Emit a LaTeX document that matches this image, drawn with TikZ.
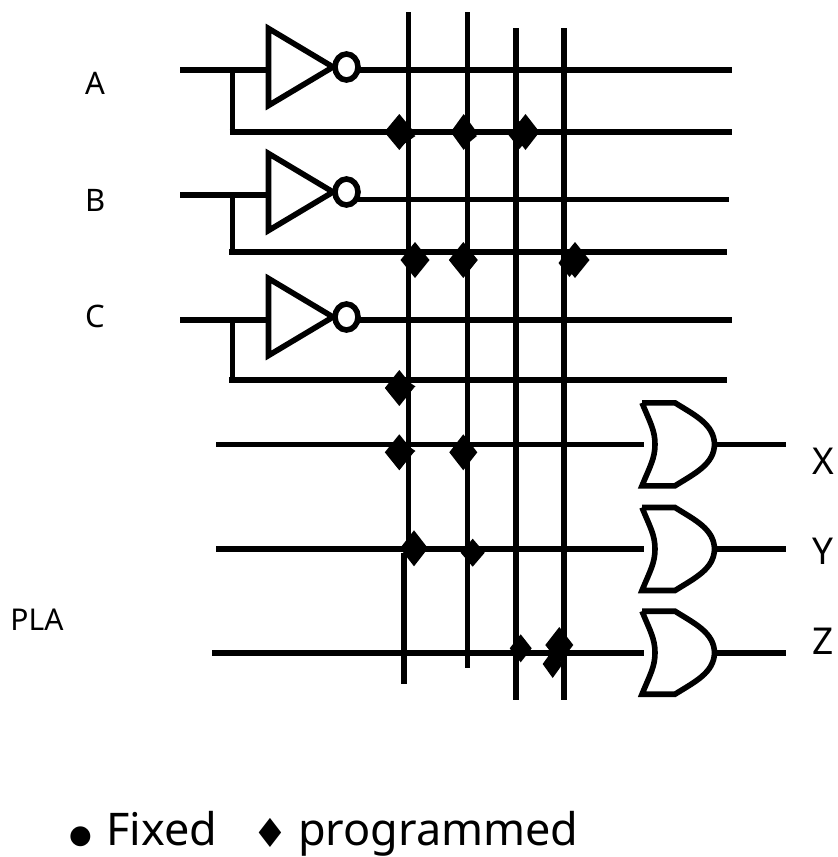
\documentclass[tikz,border=0pt]{standalone}
\usepackage{fontspec}
\setmainfont{Noto Sans}
\newfontfamily\symfont{DejaVu Sans}
\tikzset{
  wire/.style={line width=5.6pt,line cap=butt,line join=miter},
  gate/.style={line width=5.6pt,line join=miter,fill=white},
  bubble/.style={ellipse,draw,line width=5.6pt,minimum width=23pt,minimum height=26pt,inner sep=0pt,fill=white},
  lbl/.style={inner sep=0pt,font=\fontsize{31}{36}\selectfont},
  outlbl/.style={inner sep=0pt,font=\fontsize{37}{44}\selectfont},
  legend/.style={inner sep=0pt,anchor=base west,font=\fontsize{45}{54}\selectfont},
}
\usetikzlibrary{shapes.geometric}
\newcommand{\dia}[4]{\fill (#1-#3,#2) -- (#1,#2-#4) -- (#1+#3,#2) -- (#1,#2+#4) -- cycle;}
\begin{document}
\begin{tikzpicture}[x=1pt,y=-1pt]
\useasboundingbox (0,0) rectangle (838,857);
% vertical product lines
\coordinate (v1t) at (408.5,12);  \coordinate (v1m) at (408.5,550);
\coordinate (v1n) at (403.7,553); \coordinate (v1b) at (403.7,684);
\coordinate (v2t) at (467.5,12);  \coordinate (v2b) at (467.5,668);
\coordinate (v3t) at (515.7,28);  \coordinate (v3b) at (515.7,700);
\coordinate (v4t) at (563.7,28);  \coordinate (v4b) at (563.7,700);
\draw[wire] (v1t) -- (v1m) (v1n) -- (v1b) (v2t) -- (v2b) (v3t) -- (v3b) (v4t) -- (v4b);
% inputs
\foreach \nm/\y/\ty/\by/\ox/\oy/\ly/\lx/\rx in {A/70/67/132/732/70/132/229.5/732,B/195/192/252/729/199.5/252/229/727,C/320/317/380/732/320/380/229/727}{
  \coordinate (in\nm) at (180,\y);
  \coordinate (tl\nm) at (268.5,\y);
  \coordinate (br\nm) at (232.3,\y);
  \coordinate (lo\nm) at (\lx,\ly);
  \coordinate (lc\nm) at (232.3,\ly);
  \coordinate (le\nm) at (\rx,\ly);
  \coordinate (os\nm) at (356,\oy);
  \coordinate (ou\nm) at (\ox,\oy);
  \draw[wire] (in\nm) -- (tl\nm);
  \draw[wire] (br\nm) -- (lc\nm);
  \draw[wire] (lo\nm) -- (le\nm);
  \draw[wire] (os\nm) -- (ou\nm);
  \draw[gate] (268.5,\ty-38.5) -- (333,\ty) -- (268.5,\ty+38.5) -- cycle;
  \node[bubble] (bub\nm) at (346.5,\ty) {};
}
% product term inputs and OR gates
\foreach \nm/\y/\sx in {X/444.3/216,Y/549/216,Z/652.7/212}{
  \coordinate (pt\nm) at (\sx,\y);
  \coordinate (or\nm) at (644,\y);
  \coordinate (tip\nm) at (714.5,\y);
  \coordinate (end\nm) at (786,\y);
  \draw[wire] (pt\nm) -- (or\nm);
  \draw[wire] (tip\nm) -- (end\nm);
  \draw[line width=5.6pt,line join=miter]
    (642,\y-41.5) -- (675,\y-41.5)
    .. controls (695,\y-29) and (714,\y-20) .. (tip\nm)
    .. controls (714,\y+20) and (695,\y+29) .. (675,\y+41.5)
    -- (642,\y+41.5)
    .. controls (650,\y+22) and (655,\y+14) .. (655,\y)
    .. controls (655,\y-14) and (650,\y-22) .. (642,\y-41.5);
}
% programmed connections
\dia{399.3}{132}{15}{18}
\dia{402.5}{136}{13}{9}
\dia{463.7}{132}{13}{18}
\dia{466}{136}{11}{9}
\dia{525.5}{132}{14}{18}
\dia{519.5}{135}{11}{14}
\dia{415}{260}{14.5}{18}
\dia{463.3}{260}{14.5}{18}
\dia{575}{260}{14.5}{18}
\dia{569.5}{263}{11}{14}
\dia{399.3}{388}{14.5}{18}
\dia{402.5}{386.5}{13}{9}
\dia{399.3}{452.3}{14.5}{18}
\dia{402.5}{451}{13}{9}
\dia{463.3}{452.3}{14}{18}
\dia{414}{548.3}{14}{18}
\dia{472.7}{552.7}{12}{14}
\dia{520.7}{648.3}{11}{14}
\dia{559.3}{645}{14}{18}
\dia{552.7}{664}{10}{14}
% labels
\node[lbl] (la) at (95,83.5) {A};
\node[lbl] (lb) at (95.5,200) {B};
\node[lbl] (lc) at (95,316) {C};
\node[outlbl] (lx) at (823,461) {X};
\node[outlbl] (ly) at (823,551) {Y};
\node[outlbl] (lz) at (823,641) {Z};
\node[inner sep=0pt,font=\fontsize{30}{36}\selectfont] (pla) at (37,620) {PLA};
\node[legend] (leg1) at (69,843) {{\symfont\fontsize{26}{32}\selectfont●}};
\node[legend] (leg2) at (106,845) {Fixed};
\node[legend] (leg3) at (252,847) {{\symfont\fontsize{40}{48}\selectfont♦}};
\node[legend] (leg4) at (298,845) {programmed};
\end{tikzpicture}
\end{document}
